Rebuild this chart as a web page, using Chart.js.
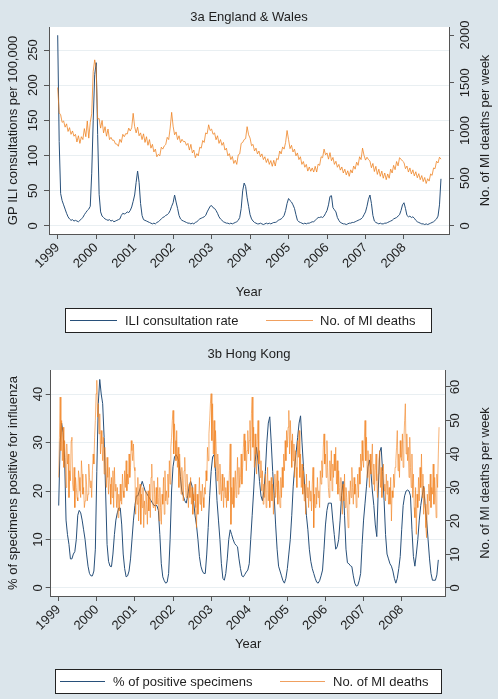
<!DOCTYPE html>
<html>
<head>
<meta charset="utf-8">
<script src="https://cdn.jsdelivr.net/npm/chart.js@4.4.0/dist/chart.umd.min.js"></script>
<style>
  html, body { margin: 0; padding: 0; background: #dbe5eb; }
  .panel { position: absolute; left: 0; width: 498px; }
  #wrapA { top: 0; height: 340px; }
  #wrapB { top: 340px; height: 359px; }
</style>
</head>
<body>
<div class="panel" id="wrapA"><canvas id="chartA" width="498" height="340"></canvas></div>
<div class="panel" id="wrapB"><canvas id="chartB" width="498" height="359"></canvas></div>
<script>
// Series start at the beginning of 1999; most are two-weekly (26 per year),
// the Hong Kong deaths are weekly (52 per year)
const yearTicks = [1999, 2000, 2001, 2002, 2003, 2004, 2005, 2006, 2007, 2008];

// 3a England & Wales: GP ILI consultations per 100,000
const ewIli = [
  271,120,46,36,30,24,18,13,10,8,9,7,8,7,6,8,10,12,16,19,22,24,28,75,150,215,   // 1999
  232,130,45,20,14,12,10,9,8,9,7,8,6,7,8,9,10,15,18,17,18,20,19,22,27,35,       // 2000
  44,62,78,62,32,15,9,8,7,6,5,4,3,4,3,5,6,8,10,12,13,15,16,18,22,28,            // 2001
  33,44,34,25,15,10,8,7,6,5,4,4,3,4,3,5,6,8,10,11,12,13,15,20,24,28,            // 2002
  29,26,25,22,18,13,10,8,6,5,4,4,3,4,3,4,5,6,8,12,25,50,61,56,40,28,            // 2003
  16,10,7,5,4,3,3,4,3,2,3,4,3,4,3,4,5,5,6,8,9,10,12,15,22,32,                   // 2004
  39,36,34,30,25,16,8,6,5,4,3,4,3,4,4,5,6,6,8,10,12,12,13,12,14,18,             // 2005
  22,30,42,43,26,23,20,12,8,5,4,3,3,2,3,4,4,5,5,6,7,8,9,10,12,16,               // 2006
  20,28,38,44,32,15,7,5,4,3,4,3,3,4,4,5,6,7,8,10,11,12,14,16,22,30,             // 2007
  33,25,15,13,14,12,13,11,8,6,5,4,3,3,2,3,2,3,4,5,6,8,10,14,30,67               // 2008
];
// 3a England & Wales: MI deaths per week
const ewDeaths = [
  1450,1185,1165,1085,1100,1035,1070,990,1030,960,995,940,960,880,945,865,935,905,1020,935,1100,920,1085,1175,1620,1740,
  1650,1120,1125,1025,1105,975,1040,940,1015,905,928,898,898,860,858,835,908,875,960,935,968,963,1025,995,1028,1180,
  1040,975,1035,945,975,905,965,875,935,845,905,815,855,775,805,725,750,735,825,805,838,853,928,905,1025,1190,
  1045,955,985,905,945,873,908,883,885,845,865,795,855,765,795,715,758,735,825,815,895,875,975,965,1060,1000,
  1015,960,975,903,945,865,905,845,875,795,815,735,758,695,728,655,688,645,745,755,865,875,905,915,1040,955,
  920,840,855,785,815,755,785,725,755,695,725,665,705,645,685,625,688,628,708,695,785,755,828,805,875,1000,
  905,810,845,775,805,735,765,695,725,645,675,615,645,575,618,573,608,565,625,565,648,635,725,715,805,745,
  765,700,768,683,718,645,678,615,645,585,618,555,595,535,578,520,588,555,628,595,668,635,725,695,815,740,
  690,720,695,680,610,655,570,625,540,595,520,575,500,555,485,545,500,595,555,635,590,675,630,715,700,680,
  665,600,628,565,608,545,588,525,568,505,548,485,528,465,508,445,495,470,545,530,608,600,678,660,720,700
];

// 3b Hong Kong: % of specimens positive for influenza
const hkPositive = [
  17,30,34,32,27,14,11,9,6,6,7,7.5,10,15,16,15.5,14,12,10,7,4.5,3,2.5,2.5,3.5,8,
  24,38,43,40,38,31,20,9,5.5,4.5,4.4,7,11,14,15.5,16.5,16.5,13,7,4,2.3,2.5,3.5,6,10,14,
  17,19,19,20,21,22,21,20,19.5,19,18.5,18,17.5,17,17,17,16,11,5,2.3,1.5,1,1.2,3,10,20,
  25,27,27.5,27,26,23,20,19,18,17.5,19,21,22,21,18,15,13,10,6.5,4.5,3.5,3,3,7,12.5,19,
  24,27,27.5,24,18,14,10,5,2,1.6,3,6,10,12,11,10,9.2,8.8,8.5,6,4,2.5,2.3,2.8,3.3,3.7,
  5,10,15,20,26,29,26,22,19,18,20,24,30,34,35.3,30,24,19,13,8,4.5,3.5,2.5,1.5,1,2,
  4,7,10,15,21,25,28,31,34,35.5,30,25,20,15,12,8,5.5,4,3,2,1.2,1,1.5,2.5,3.7,8,
  13,16,17.5,17.5,17.5,14,11,8,8.5,10,14,19,22,15,8,5.2,5,4.6,4.4,2.5,1,0.4,0.5,1.5,3,9,
  14,17.5,21,25,26.4,24,20,17,13,10.6,20,28,29,24,18,11,7,6,5,4.5,3.5,2,1,2,4,6.5,
  12,17,19,20,20.2,20,19,12,6.5,4.5,7,10,14,17,19,21,17,14,10,6,3,1.6,1.6,1.6,2.7,5.8
];
// 3b Hong Kong: MI deaths per week (weekly)
const hkDeaths = [
  33,45,57,41,50,38,48,36,44,39,30,43,37,40,27,35,32,44,45,31,29,36,24,33,30,27,
  26,35,33,29,27,38,34,28,30,24,26,34,31,26,28,37,33,30,32,27,35,40,37,45,50,58,   // 1999
  62,51,55,46,52,40,47,43,38,45,34,42,36,30,39,33,28,36,31,25,33,27,35,24,36,29,
  31,24,30,21,28,23,31,26,25,34,29,27,35,30,38,29,34,31,40,33,36,44,41,38,43,36,   // 2000
  35,22,30,25,33,20,27,31,19,28,24,30,18,26,22,29,25,19,29,23,31,21,33,37,26,24,
  32,28,23,30,25,33,27,20,30,24,19,28,25,33,22,35,26,29,25,34,27,38,31,42,45,50,   // 2001
  53,40,49,44,38,47,36,42,30,40,35,28,36,32,26,35,39,30,27,34,29,24,31,27,33,25,
  30,22,28,26,31,24,18,28,22,26,33,25,29,23,31,27,24,30,28,35,32,42,38,46,50,55,   // 2002
  58,44,55,40,50,36,47,41,32,40,35,28,37,31,26,34,29,24,33,27,30,24,32,26,29,35,
  43,19,30,25,33,24,29,35,27,31,39,28,36,30,33,40,31,36,42,46,38,44,35,41,47,40,   // 2003
  44,50,38,52,57,42,48,36,46,40,34,44,50,37,41,33,38,29,35,25,31,27,34,24,30,36,
  26,32,24,29,33,26,31,22,28,34,27,30,35,25,32,28,24,33,27,36,30,40,35,44,38,47,   // 2004
  42,48,53,40,50,44,36,46,38,43,33,41,36,30,44,39,47,33,40,30,37,28,35,26,31,22,
  34,27,30,24,32,26,29,23,31,36,18,28,24,30,25,33,27,29,24,35,31,38,33,42,46,37,   // 2005
  40,33,44,36,30,27,38,32,41,29,37,33,40,35,42,31,38,28,35,30,26,33,29,22,31,26,
  34,24,30,27,23,18,29,25,32,27,36,30,25,33,28,31,24,29,34,27,36,31,40,35,44,38,   // 2006
  36,44,50,38,45,33,41,36,30,40,34,38,43,31,37,29,35,40,32,27,34,38,41,30,36,27,
  33,37,29,31,26,34,28,32,25,30,25,33,20,29,27,34,30,36,38,42,47,35,40,33,44,39,   // 2007
  38,46,36,44,50,55,40,46,38,42,33,45,36,30,40,27,34,24,21,30,16,28,24,33,26,36,
  30,40,27,34,22,30,25,18,15,28,22,31,26,34,24,30,28,37,25,33,29,21,34,30,40,48    // 2008
];

const FONT = '"Liberation Sans", Arial, Helvetica, sans-serif';
const TEXT = '#1e1e1e';
const AXIS = '#555';
const GRID = '#e9eff2';
const BLUE = '#28507a';
const ORANGE_EW = 'rgba(238,125,25,0.75)';
const ORANGE_HK = 'rgba(242,128,28,0.6)';

function toPoints(values, perYear) {
  return values.map((v, i) => ({ x: 1999 + i / perYear, y: v }));
}

// белый фон области графика (как plotregion в Stata)
const plotBgPlugin = {
  id: 'plotBg',
  beforeDraw: (chart) => {
    const a = chart.chartArea;
    const ctx = chart.ctx;
    ctx.save();
    ctx.fillStyle = '#fff';
    ctx.fillRect(a.left, a.top, a.right - a.left, a.bottom - a.top);
    ctx.restore();
  }
};

// правая подпись оси и легенда в рамке
const stataDecorPlugin = {
  id: 'stataDecor',
  afterDraw: (chart, args, opts) => {
    const ctx = chart.ctx;
    const a = chart.chartArea;
    ctx.save();
    ctx.font = '13px ' + FONT;
    ctx.fillStyle = TEXT;
    ctx.textAlign = 'center';
    ctx.textBaseline = 'middle';
    ctx.translate(opts.rightTitleX, (a.top + a.bottom) / 2);
    ctx.rotate(-Math.PI / 2);
    ctx.fillText(opts.rightTitle, 0, 0);
    ctx.restore();

    const b = opts.box;
    ctx.save();
    ctx.fillStyle = '#fff';
    ctx.fillRect(b[0], b[1], b[2], b[3]);
    ctx.strokeStyle = '#222';
    ctx.lineWidth = 1;
    ctx.strokeRect(b[0] + 0.5, b[1] + 0.5, b[2], b[3]);
    const lineY = b[1] + b[3] / 2;
    chart.data.datasets.forEach((ds, i) => {
      const it = opts.items[i];
      ctx.strokeStyle = ds.legendColor;
      ctx.beginPath();
      ctx.moveTo(it[0], Math.round(lineY) + 0.5);
      ctx.lineTo(it[1], Math.round(lineY) + 0.5);
      ctx.stroke();
      ctx.fillStyle = TEXT;
      ctx.font = '13px ' + FONT;
      ctx.textAlign = 'left';
      ctx.textBaseline = 'middle';
      ctx.fillText(ds.label, it[2], lineY + 1);
    });
    ctx.restore();
  }
};

function makePanel(canvasId, p) {
  const tickFont = { family: FONT, size: 13 };
  return new Chart(document.getElementById(canvasId), {
    type: 'line',
    data: {
      datasets: [
        {
          label: p.labels[0],
          data: toPoints(p.blue, 26),
          borderColor: BLUE,
          legendColor: BLUE,
          borderWidth: 1,
          pointRadius: 0,
          yAxisID: 'y',
          order: 1
        },
        {
          label: p.labels[1],
          data: toPoints(p.orange, p.orangePerYear),
          borderColor: p.orangeColor,
          legendColor: '#f0a060',
          borderWidth: 1,
          pointRadius: 0,
          yAxisID: 'y2',
          order: 0
        }
      ]
    },
    options: {
      responsive: false,
      animation: false,
      devicePixelRatio: 1,
      layout: { padding: 0 },
      events: [],
      plugins: {
        legend: { display: false },
        tooltip: { enabled: false },
        title: {
          display: true,
          text: p.title,
          color: TEXT,
          font: { family: FONT, size: 13, weight: 'normal' },
          padding: p.titlePad
        },
        stataDecor: {
          rightTitle: 'No. of MI deaths per week',
          rightTitleX: 485,
          box: p.legendBox,
          items: p.legendItems
        }
      },
      scales: {
        x: {
          type: 'linear',
          min: p.xMin,
          max: p.xMax,
          afterBuildTicks: (s) => { s.ticks = yearTicks.map(v => ({ value: v })); },
          afterFit: (s) => { s.height = p.xAxisHeight; },
          ticks: {
            minRotation: 45, maxRotation: 45, autoSkip: false, padding: 1,
            color: TEXT, font: tickFont,
            callback: (v) => String(v)
          },
          grid: { drawOnChartArea: false, tickLength: 5, tickColor: AXIS },
          border: { color: AXIS },
          title: {
            display: true, text: 'Year', color: TEXT,
            font: { family: FONT, size: 13 },
            padding: { top: 0, bottom: p.yearPad }
          }
        },
        y: {
          position: 'left',
          min: p.yMin,
          max: p.yMax,
          afterBuildTicks: (s) => { s.ticks = p.yTicks.map(v => ({ value: v })); },
          afterFit: (s) => { s.width = p.leftW; },
          ticks: {
            minRotation: 90, maxRotation: 90, crossAlign: 'center', padding: 0,
            color: TEXT, font: tickFont,
            callback: (v) => String(v)
          },
          grid: { color: GRID, tickLength: 5, tickColor: AXIS },
          border: { color: AXIS },
          title: {
            display: true, text: p.leftTitle, color: TEXT,
            font: { family: FONT, size: 13 },
            padding: { top: 6, bottom: 0 }
          }
        },
        y2: {
          position: 'right',
          min: p.y2Min,
          max: p.y2Max,
          afterBuildTicks: (s) => { s.ticks = p.y2Ticks.map(v => ({ value: v })); },
          afterFit: (s) => { s.width = p.rightW; },
          ticks: {
            minRotation: 90, maxRotation: 90, crossAlign: 'center', padding: -3,
            color: TEXT, font: tickFont,
            callback: (v) => String(v)
          },
          grid: { drawOnChartArea: false, tickLength: 5, tickColor: AXIS },
          border: { color: AXIS }
        }
      }
    },
    plugins: [plotBgPlugin, stataDecorPlugin]
  });
}

makePanel('chartA', {
  title: '3a England & Wales',
  titlePad: { top: 9.2, bottom: 2.2 },
  labels: ['ILI consultation rate', 'No. of MI deaths'],
  blue: ewIli,
  orange: ewDeaths,
  orangePerYear: 26,
  orangeColor: ORANGE_EW,
  xMin: 1998.774, xMax: 2009.17,
  xAxisHeight: 106, yearPad: 40,
  yMin: -11.4, yMax: 282.7, yTicks: [0, 50, 100, 150, 200, 250],
  y2Min: -84, y2Max: 2084, y2Ticks: [0, 500, 1000, 1500, 2000],
  leftW: 49, rightW: 49,
  leftTitle: 'GP ILI consultations per 100,000',
  legendBox: [65, 308, 366, 24],
  legendItems: [[70, 117, 125], [266, 313, 320]]
});

makePanel('chartB', {
  title: '3b Hong Kong',
  titlePad: { top: 6.2, bottom: 8.2 },
  labels: ['% of positive specimens', 'No. of MI deaths'],
  blue: hkPositive,
  orange: hkDeaths,
  orangePerYear: 52,
  orangeColor: ORANGE_HK,
  xMin: 1998.79, xMax: 2009.155,
  xAxisHeight: 103, yearPad: 47,
  yMin: -1.65, yMax: 44.95, yTicks: [0, 10, 20, 30, 40],
  y2Min: -2.39, y2Max: 65.07, y2Ticks: [0, 10, 20, 30, 40, 50, 60],
  leftW: 50.7, rightW: 52.3,
  leftTitle: '% of specimens positive for influenza',
  legendBox: [55, 329, 386, 24],
  legendItems: [[60, 105, 113], [280, 325, 333]]
});
</script>
</body>
</html>
